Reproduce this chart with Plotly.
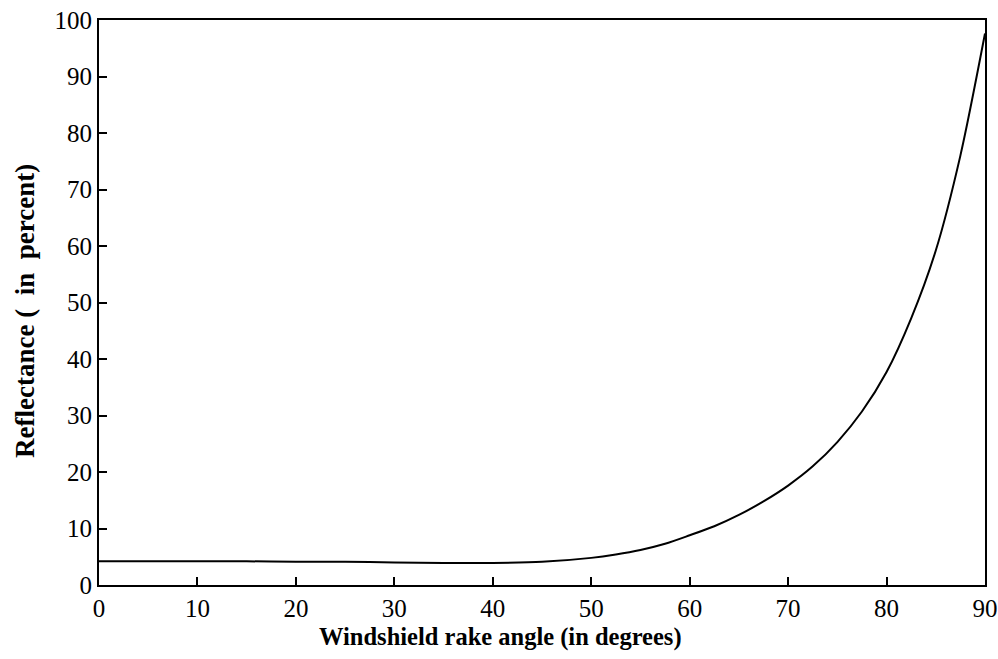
import plotly.graph_objects as go

angle = [0, 5, 10, 15, 20, 25, 30, 35, 40, 45, 50, 52.5, 55, 57.5, 60, 62.5, 65, 67.5, 70,
         72.5, 75, 77.5, 80, 82.5, 85, 87.5, 90]
reflectance = [4.2, 4.2, 4.2, 4.2, 4.1, 4.1, 4.0, 3.9, 3.9, 4.1, 4.8, 5.4, 6.2, 7.3, 8.8, 10.4, 12.4, 14.8, 17.6,
               21.0, 25.3, 30.7, 37.7, 47.2, 59.2, 76.0, 97.6]

x_ticks = [0, 10, 20, 30, 40, 50, 60, 70, 80, 90]
y_ticks = [0, 10, 20, 30, 40, 50, 60, 70, 80, 90, 100]

x_title = "<b>Windshield rake angle (in degrees)</b>"
y_title = "<b>Reflectance (  in  percent)</b>"

fig = go.Figure()
fig.add_trace(go.Scatter(x=angle, y=reflectance, mode="lines",
                         line=dict(color="black", width=2, shape="spline", smoothing=0.8),
                         showlegend=False, hoverinfo="skip"))

font = dict(family="Liberation Serif, Times New Roman, serif", color="black")
fig.update_layout(
    width=998, height=659,
    margin=dict(l=99, r=13, t=20, b=74),
    paper_bgcolor="white", plot_bgcolor="white",
    font=dict(**font, size=25),
)
fig.update_xaxes(
    range=[0, 90], tickvals=x_ticks, ticktext=[str(v) for v in x_ticks],
    ticks="inside", ticklen=8, tickwidth=1.5, tickcolor="black",
    showline=True, linecolor="black", linewidth=2, mirror=True,
    showgrid=False, zeroline=False, automargin=False, ticklabeloverflow="allow",
    tickfont=dict(**font, size=25),
)
fig.update_yaxes(
    range=[0, 100], tickvals=y_ticks, ticktext=[str(v) for v in y_ticks],
    ticks="inside", ticklen=8, tickwidth=1.5, tickcolor="black",
    showline=True, linecolor="black", linewidth=2, mirror=True,
    showgrid=False, zeroline=False, automargin=False, ticklabeloverflow="allow",
    tickfont=dict(**font, size=25),
)
fig.add_annotation(text=x_title, xref="paper", yref="paper", x=0.4526, y=-0.092,
                   xanchor="center", yanchor="middle", showarrow=False,
                   font=dict(**font, size=24.5))
fig.add_annotation(text=y_title, xref="paper", yref="paper", x=-0.0835, y=0.485,
                   xanchor="center", yanchor="middle", showarrow=False, textangle=-90,
                   font=dict(**font, size=27))
fig.write_html("out.html", config={"displayModeBar": False},
               post_script="document.body.style.margin='0';document.body.style.overflow='hidden';")
